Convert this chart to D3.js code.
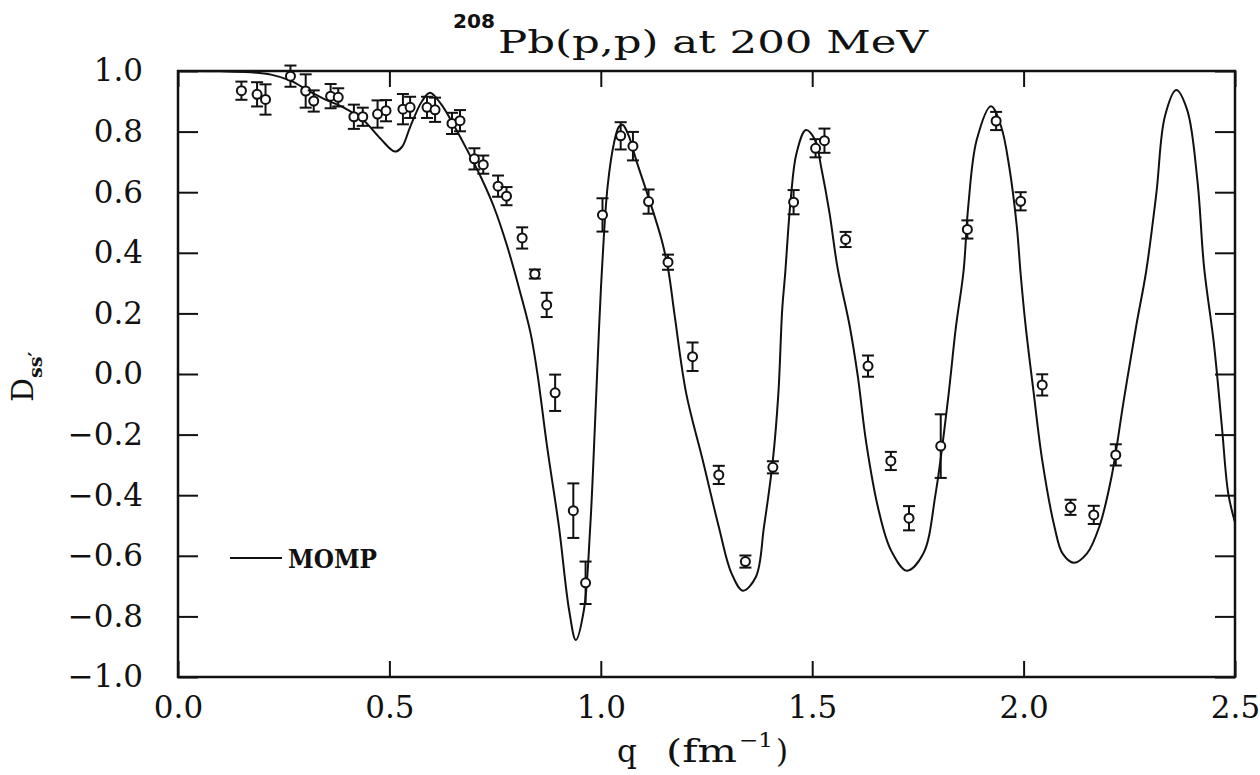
<!DOCTYPE html>
<head>
  <meta charset="utf-8">
  <style>
    body { margin: 0; background: #fff; }
    svg text { font-family: 'DejaVu Serif', serif; fill: #111; }
  </style>
  <script src="https://cdn.jsdelivr.net/npm/d3@7"></script>
</head>
<body>
  <script>

    // measured points with error bars
    const dataQ = [0.150, 0.187, 0.207, 0.266, 0.302, 0.321, 0.361, 0.379, 0.416, 0.437,
                   0.472, 0.492, 0.532, 0.549, 0.589, 0.608, 0.648, 0.667, 0.701, 0.722,
                   0.757, 0.777, 0.814, 0.844, 0.872, 0.892, 0.935, 0.964, 1.004, 1.047,
                   1.076, 1.113, 1.159, 1.217, 1.279, 1.342, 1.407, 1.456, 1.508, 1.529,
                   1.579, 1.632, 1.686, 1.729, 1.804, 1.867, 1.935, 1.993, 2.044, 2.111,
                   2.166, 2.218];
    const dataD = [0.935, 0.923, 0.906, 0.983, 0.934, 0.901, 0.917, 0.913, 0.849, 0.849,
                   0.858, 0.869, 0.874, 0.880, 0.880, 0.872, 0.827, 0.836, 0.710, 0.691,
                   0.620, 0.587, 0.449, 0.330, 0.228, -0.062, -0.451, -0.689, 0.525, 0.786,
                   0.752, 0.569, 0.369, 0.057, -0.333, -0.619, -0.308, 0.567, 0.745, 0.770,
                   0.444, 0.026, -0.287, -0.476, -0.238, 0.477, 0.835, 0.570, -0.036, -0.440,
                   -0.465, -0.267];
    const dataErr = [0.030, 0.040, 0.050, 0.035, 0.055, 0.035, 0.040, 0.030, 0.040, 0.030,
                     0.045, 0.035, 0.050, 0.035, 0.035, 0.040, 0.035, 0.035, 0.035, 0.030,
                     0.035, 0.030, 0.035, 0.015, 0.040, 0.060, 0.090, 0.070, 0.055, 0.045,
                     0.047, 0.040, 0.025, 0.047, 0.030, 0.020, 0.020, 0.040, 0.030, 0.040,
                     0.025, 0.035, 0.030, 0.040, 0.105, 0.030, 0.030, 0.030, 0.035, 0.025,
                     0.030, 0.035];

    // MOMP calculation
    const curveQ = [0.00, 0.10, 0.17, 0.22, 0.266, 0.312, 0.35, 0.391, 0.438, 0.478,
                    0.513, 0.530, 0.549, 0.577, 0.596, 0.621, 0.652, 0.684, 0.716, 0.747,
                    0.779, 0.810, 0.834, 0.850, 0.873, 0.901, 0.925, 0.941, 0.960, 0.975,
                    0.986, 0.996, 1.004, 1.016, 1.031, 1.043, 1.052, 1.065, 1.086, 1.115,
                    1.144, 1.160, 1.175, 1.202, 1.241, 1.279, 1.309, 1.336, 1.367, 1.386,
                    1.407, 1.420, 1.429, 1.436, 1.449, 1.463, 1.485, 1.507, 1.521, 1.541,
                    1.560, 1.589, 1.608, 1.628, 1.657, 1.686, 1.724, 1.763, 1.792, 1.821,
                    1.840, 1.858, 1.869, 1.889, 1.923, 1.947, 1.966, 1.984, 1.993, 2.005,
                    2.024, 2.044, 2.073, 2.092, 2.119, 2.150, 2.179, 2.208, 2.237, 2.266,
                    2.290, 2.314, 2.334, 2.361, 2.387, 2.411, 2.427, 2.450, 2.469, 2.484,
                    2.500];
    const curveD = [1.000, 0.999, 0.996, 0.988, 0.968, 0.932, 0.905, 0.880, 0.838, 0.778,
                    0.734, 0.750, 0.815, 0.900, 0.928, 0.893, 0.822, 0.739, 0.651, 0.552,
                    0.420, 0.266, 0.134, 0.002, -0.240, -0.504, -0.779, -0.878, -0.779, -0.504,
                    -0.174, 0.156, 0.376, 0.618, 0.761, 0.816, 0.822, 0.790, 0.696, 0.574,
                    0.442, 0.340, 0.190, -0.064, -0.284, -0.504, -0.657, -0.715, -0.669, -0.504,
                    -0.284, -0.064, 0.211, 0.330, 0.574, 0.729, 0.805, 0.772, 0.684, 0.531,
                    0.350, 0.156, -0.009, -0.229, -0.449, -0.581, -0.649, -0.592, -0.394, -0.086,
                    0.156, 0.340, 0.552, 0.772, 0.884, 0.816, 0.684, 0.486, 0.330, 0.156,
                    -0.064, -0.284, -0.504, -0.592, -0.623, -0.592, -0.504, -0.339, -0.086, 0.156,
                    0.340, 0.596, 0.849, 0.937, 0.871, 0.640, 0.350, 0.101, -0.174, -0.394,
                    -0.490];

    const xTicks = [0.0, 0.5, 1.0, 1.5, 2.0, 2.5];
    const yTicks = [-1.0, -0.8, -0.6, -0.4, -0.2, 0.0, 0.2, 0.4, 0.6, 0.8, 1.0];

    const render = () => {
      const w = 1260, h = 775;
      const left = 178, right = 1235, top = 71, bottom = 677;

      const svg = d3.select('body').append('svg')
          .attr('width', w)
          .attr('height', h);

      const x = d3.scaleLinear().domain([0, 2.5]).range([left, right]);
      const y = d3.scaleLinear().domain([-1, 1]).range([bottom, top]);
      const fmt = d3.format('.1f');

      // axes, ticks pointing inward
      const axisStyle = (g) => {
        g.select('.domain').remove();
        g.selectAll('.tick line').attr('stroke', '#111').attr('stroke-width', 2);
        g.selectAll('text').attr('font-size', '31px').attr('fill', '#111');
      };

      svg.append('g')
        .attr('transform', `translate(${left},0)`)
        .call(d3.axisLeft(y).tickValues(yTicks).tickFormat(fmt).tickSize(-20).tickPadding(35))
        .call(axisStyle);

      svg.append('g')
        .attr('transform', `translate(${right},0)`)
        .call(d3.axisRight(y).tickValues(yTicks).tickFormat('').tickSize(-20))
        .call(axisStyle);

      svg.append('g')
        .attr('transform', `translate(0,${bottom})`)
        .call(d3.axisBottom(x).tickValues(xTicks).tickFormat(fmt).tickSize(-16).tickPadding(19))
        .call(axisStyle);

      svg.append('g')
        .attr('transform', `translate(0,${top})`)
        .call(d3.axisTop(x).tickValues(xTicks).tickFormat('').tickSize(-16))
        .call(axisStyle);

      svg.append('rect')
        .attr('x', left)
        .attr('y', top)
        .attr('width', right - left)
        .attr('height', bottom - top)
        .attr('fill', 'none')
        .attr('stroke', '#111')
        .attr('stroke-width', 2.5);

      // curve
      const pts = curveQ.map((q, i) => [q, curveD[i]]);
      const line = d3.line()
        .x((d) => x(d[0]))
        .y((d) => y(d[1]))
        .curve(d3.curveCatmullRom.alpha(0.5));

      svg.append('path')
        .datum(pts)
        .attr('d', line)
        .attr('fill', 'none')
        .attr('stroke', '#111')
        .attr('stroke-width', 2);

      // data points with error bars
      const data = dataQ.map((q, i) => ({ q: q, d: dataD[i], e: dataErr[i] }));
      const cap = 6;

      const pt = svg.selectAll('g.pt')
        .data(data)
        .enter()
        .append('g')
        .attr('class', 'pt')
        .attr('stroke', '#111')
        .attr('stroke-width', 2);

      pt.append('line')
        .attr('x1', (d) => x(d.q)).attr('x2', (d) => x(d.q))
        .attr('y1', (d) => y(d.d + d.e)).attr('y2', (d) => y(d.d - d.e));
      pt.append('line')
        .attr('x1', (d) => x(d.q) - cap).attr('x2', (d) => x(d.q) + cap)
        .attr('y1', (d) => y(d.d + d.e)).attr('y2', (d) => y(d.d + d.e));
      pt.append('line')
        .attr('x1', (d) => x(d.q) - cap).attr('x2', (d) => x(d.q) + cap)
        .attr('y1', (d) => y(d.d - d.e)).attr('y2', (d) => y(d.d - d.e));
      pt.append('circle')
        .attr('cx', (d) => x(d.q))
        .attr('cy', (d) => y(d.d))
        .attr('r', 4.5)
        .attr('fill', '#fff');

      // legend
      svg.append('line')
        .attr('x1', 230).attr('x2', 282)
        .attr('y1', 558).attr('y2', 558)
        .attr('stroke', '#111')
        .attr('stroke-width', 2);
      svg.append('text')
        .attr('x', 288)
        .attr('y', 568)
        .attr('font-size', '26px')
        .attr('font-weight', 'bold')
        .attr('textLength', 89)
        .attr('lengthAdjust', 'spacingAndGlyphs')
        .text('MOMP');

      // title
      svg.append('text')
        .attr('x', 453)
        .attr('y', 28)
        .style('font-family', "'DejaVu Sans', sans-serif")
        .attr('font-size', '19px')
        .attr('font-weight', 'bold')
        .attr('textLength', 42)
        .attr('lengthAdjust', 'spacingAndGlyphs')
        .text('208');
      svg.append('text')
        .attr('x', 498)
        .attr('y', 53)
        .attr('font-size', '31px')
        .attr('textLength', 430)
        .attr('lengthAdjust', 'spacingAndGlyphs')
        .text('Pb(p,p) at 200 MeV');

      // x axis title
      const xt = svg.append('g').attr('font-size', '31px');
      xt.append('text').attr('x', 617).attr('y', 762).attr('font-size', '31px').text('q');
      xt.append('text').attr('x', 666).attr('y', 762).attr('font-size', '31px')
        .attr('textLength', 71).attr('lengthAdjust', 'spacingAndGlyphs').text('(fm');
      xt.append('text').attr('x', 739).attr('y', 747).attr('font-size', '20px')
        .attr('textLength', 34).attr('lengthAdjust', 'spacingAndGlyphs').text('−1');
      xt.append('text').attr('x', 776).attr('y', 762).attr('font-size', '31px').text(')');

      // y axis title
      const yt = svg.append('text')
        .attr('transform', 'translate(33,402) rotate(-90)')
        .attr('font-size', '30px');
      yt.append('tspan').text('D');
      yt.append('tspan').attr('font-size', '19px').attr('font-weight', 'bold').attr('dy', 9).text('ss′');
    };

    render();

  </script>
</body>
